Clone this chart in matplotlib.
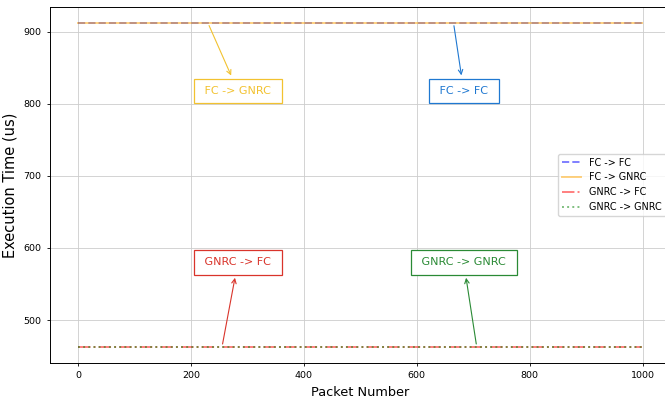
import matplotlib
matplotlib.use("Agg")
import matplotlib.pyplot as plt

# packet index range and execution times (us)
packet_numbers = [0, 999]
fc_fc = [912, 912]
fc_gnrc = [912, 912]
gnrc_fc = [463, 463]
gnrc_gnrc = [463, 463]

# annotation labels: (text, point on line, text position, colour)
notes = [
    ("FC -> GNRC", (230, 912), (283, 818), "#f2c230"),
    ("FC -> FC", (665, 912), (683, 818), "#1f78d1"),
    ("GNRC -> FC", (255, 463), (283, 580), "#d9342b"),
    ("GNRC -> GNRC", (706, 463), (683, 580), "#2a8a35"),
]

fig = plt.figure(figsize=(6.65, 4.01), dpi=100)
ax = fig.add_axes([0.075, 0.095, 0.933, 0.888])

ax.plot(packet_numbers, fc_fc, linestyle="--", color="blue", alpha=0.5, lw=1.4, label="FC -> FC")
ax.plot(packet_numbers, fc_gnrc, linestyle="-", color="orange", alpha=0.5, lw=1.4, label="FC -> GNRC")
ax.plot(packet_numbers, gnrc_fc, linestyle="-.", color="red", alpha=0.5, lw=1.4, label="GNRC -> FC")
ax.plot(packet_numbers, gnrc_gnrc, linestyle=":", color="green", alpha=0.5, lw=1.4, label="GNRC -> GNRC")

for text, xy, xytext, col in notes:
    ax.annotate(" " + text + " ", xy=xy, xytext=xytext, color=col, fontsize=8,
                ha="center", va="center",
                bbox=dict(boxstyle="square,pad=0.65", fc="white", ec=col, lw=0.9),
                arrowprops=dict(arrowstyle="<-", color=col, lw=0.8))

ax.set_xlabel("Packet Number", fontsize=9.3)
ax.set_ylabel("Execution Time (us)", fontsize=10.5)
ax.tick_params(labelsize=6.8, width=0.6, length=2.5)
for s in ax.spines.values():
    s.set_linewidth(0.7)
ax.grid(True, color="#cccccc", lw=0.6)
ax.legend(loc="center right", fontsize=6.9)

fig.savefig("out.png", dpi=100)
